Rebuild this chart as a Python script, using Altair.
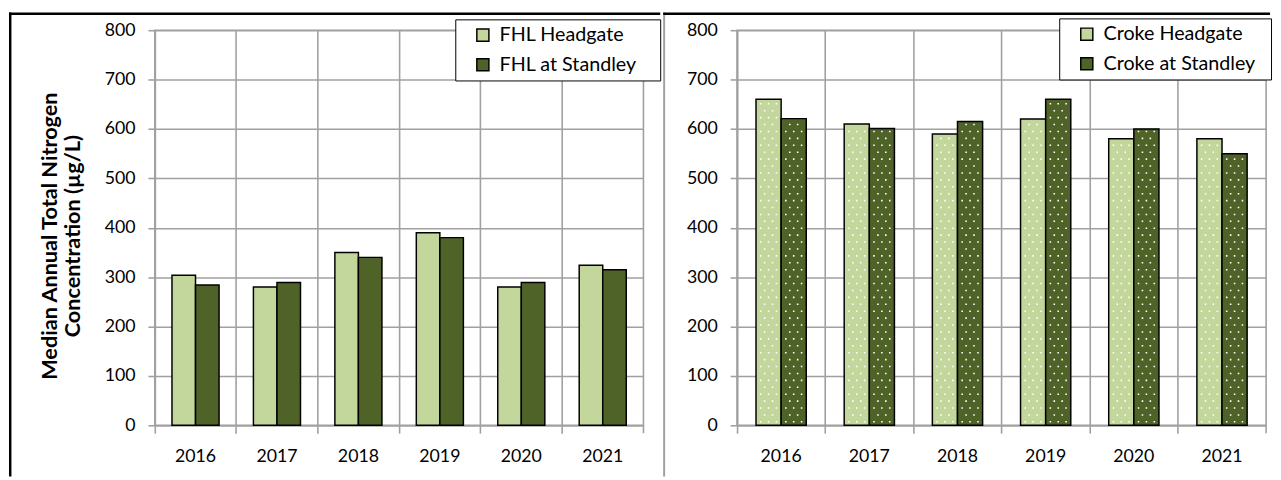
import altair as alt
import pandas as pd

years = ["2016", "2017", "2018", "2019", "2020", "2021"]

fhl_series = ["FHL Headgate", "FHL at Standley"]
fhl_headgate = [304, 280, 350, 390, 280, 324]
fhl_standley = [284, 289, 340, 380, 289, 315]

croke_series = ["Croke Headgate", "Croke at Standley"]
croke_headgate = [660, 610, 590, 620, 580, 580]
croke_standley = [621, 601, 615, 660, 600, 550]

y_ticks = [0, 100, 200, 300, 400, 500, 600, 700, 800]
y_title = ["Median Annual Total Nitrogen", "Concentration (µg/L)"]
bar_colors = ["#C3D69B", "#4F6228"]

GRID = "#A0A0A0"
FONT = "Lato"

# white dotted fill texture (Excel "dotted" pattern) for the Croke bars
DOT_ROW_STEP = 14  # in data units along y between texture rows
DOTS_A = ("M-1.1,-0.1h0.2v0.2h-0.2z M-0.1,-0.1h0.2v0.2h-0.2z "
          "M0.9,-0.1h0.2v0.2h-0.2z")
DOTS_B = "M-0.6,-0.1h0.2v0.2h-0.2z M0.4,-0.1h0.2v0.2h-0.2z"


def make_df(series, a, b):
    return pd.DataFrame({
        "year": years * 2,
        "series": [series[0]] * len(years) + [series[1]] * len(years),
        "value": a + b,
    })


def texture_rows(df):
    rows = []
    for _, r in df.iterrows():
        k = 0
        v = DOT_ROW_STEP / 2
        while v < r["value"] - 4:
            rows.append({"year": r["year"], "series": r["series"], "v": v,
                         "row": "a" if k % 2 == 0 else "b"})
            v += DOT_ROW_STEP
            k += 1
    return pd.DataFrame(rows)


one = pd.DataFrame({"k": [0]})


def panel(df, series, w, h, ytitle, lx, ly, left_x, top_y, top_x2, pad_outer,
          left_color, left_w, extra_w, dotted):
    x = alt.X(
        "year:N", title=None, sort=years,
        scale=alt.Scale(paddingInner=0, paddingOuter=0),
        axis=alt.Axis(bandPosition=0, labelAngle=0,
                      grid=True, gridColor=GRID, gridWidth=1.6,
                      domainColor=GRID, domainWidth=1.6,
                      tickColor=GRID, tickWidth=1.6, tickSize=8,
                      labelPadding=15, labelFont=FONT, labelFontSize=18,
                      labelColor="black"),
    )
    yaxis_kw = dict(values=y_ticks, grid=True, gridColor=GRID, gridWidth=1.6,
                    domainColor=GRID, domainWidth=1.6, tickColor=GRID,
                    tickWidth=1.6, tickSize=7, labelPadding=13, labelFont=FONT,
                    labelFontSize=18, labelColor="black")
    if ytitle is not None:
        yaxis_kw.update(title=ytitle, titleFont=FONT, titleFontSize=22,
                        titleFontWeight="bold", titleColor="black",
                        titlePadding=20, titleLineHeight=23, titleY=h / 2 + 8)
    else:
        yaxis_kw.update(title=None)
    y = alt.Y("value:Q", scale=alt.Scale(domain=[0, 800]),
              axis=alt.Axis(**yaxis_kw))
    xoff = alt.XOffset("series:N", sort=series,
                       scale=alt.Scale(paddingInner=0, paddingOuter=pad_outer))
    legend_kw = dict(orient="none", legendX=lx, legendY=ly,
                     strokeColor="black", fillColor="white", padding=6,
                     symbolOffset=12, labelFont=FONT, labelFontSize=20,
                     labelColor="black", symbolType="square", symbolSize=150,
                     symbolStrokeColor="black", symbolStrokeWidth=1.5,
                     rowPadding=10, labelOffset=7)
    if extra_w > 0:
        # invisible spacer on the right to widen the legend box
        legend_kw.update(title=".", titleOrient="right", titleOpacity=0,
                         titleFontSize=6, titlePadding=extra_w)
    else:
        legend_kw.update(title=None)
    bars = alt.Chart(df).mark_bar(stroke="black", strokeWidth=1.5).encode(
        x=x,
        xOffset=xoff,
        y=y,
        color=alt.Color(
            "series:N", sort=series,
            scale=alt.Scale(domain=series, range=bar_colors),
            legend=alt.Legend(**legend_kw),
        ),
    )
    layers = []
    left_rect = alt.Chart(one).mark_rect(color=left_color).encode(
        x=alt.value(left_x), x2=alt.value(left_x + left_w),
        y=alt.value(top_y), y2=alt.value(h + 52))
    top_rect = alt.Chart(one).mark_rect(color="black").encode(
        x=alt.value(left_x), x2=alt.value(top_x2),
        y=alt.value(top_y), y2=alt.value(top_y + 2.5))
    layers += [left_rect, top_rect, bars]
    if dotted:
        tex = texture_rows(df)
        for row, path in (("a", DOTS_A), ("b", DOTS_B)):
            layers.append(
                alt.Chart(tex[tex["row"] == row]).mark_point(
                    shape=path, size=256, filled=True, fill="white",
                    opacity=1, strokeWidth=0).encode(
                    x=alt.X("year:N", sort=years),
                    xOffset=alt.XOffset("series:N", sort=series),
                    y=alt.Y("v:Q"),
                ))
    end_tick = alt.Chart(one).mark_rule(color=GRID, strokeWidth=1.6).encode(
        x=alt.value(w), y=alt.value(h), y2=alt.value(h + 8))
    layers.append(end_tick)
    return alt.layer(*layers).properties(width=w, height=h)


left = panel(make_df(fhl_series, fhl_headgate, fhl_standley), fhl_series,
             496, 401, y_title, 305, -11, -148, -18, 513, 0.73, "black", 2.5,
             16, False)
right = panel(make_df(croke_series, croke_headgate, croke_standley),
              croke_series, 537, 401, None, 327, -12, -75, -18, 541, 0.755,
              GRID, 2, 8, True)

chart = (
    alt.hconcat(left, right, spacing=0)
    .resolve_scale(color="independent", xOffset="independent")
    .properties(padding=0)
    .configure(padding=0)
    .configure_view(stroke=GRID, strokeWidth=1.6)
)

chart.save("out.html", embed_options={"renderer": "svg", "actions": False})
